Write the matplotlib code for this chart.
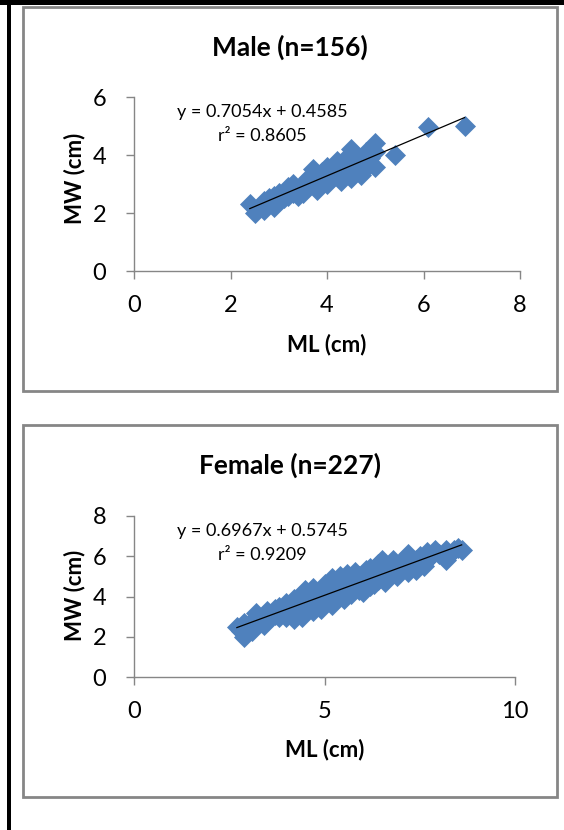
import numpy as np
import matplotlib.pyplot as plt
from matplotlib.patches import Rectangle

plt.rcParams['font.family'] = ['Lato', 'DejaVu Sans']

# Male (n=156): mantle length vs mantle width, cm
male_ml = [2.4, 2.5, 2.6, 2.7, 2.7, 2.8, 2.9, 2.9, 3.0, 3.0, 3.1, 3.2, 3.2, 3.3, 3.3,
           3.4, 3.4, 3.5, 3.5, 3.6, 3.6, 3.7, 3.7, 3.8, 3.8, 3.9, 3.9, 4.0, 4.0, 4.0,
           4.1, 4.1, 4.2, 4.2, 4.3, 4.3, 4.4, 4.4, 4.5, 4.5, 4.5, 4.6, 4.6, 4.7, 4.7,
           4.8, 4.8, 4.9, 4.9, 5.0, 5.0, 5.0, 5.4, 6.1, 6.85]
male_mw = [2.3, 2.0, 2.2, 2.1, 2.4, 2.5, 2.2, 2.6, 2.4, 2.7, 2.5, 2.6, 2.9, 2.7, 3.0,
           2.6, 2.8, 3.0, 2.7, 3.2, 2.9, 3.3, 3.5, 3.0, 2.8, 3.2, 3.4, 3.0, 3.6, 3.3,
           3.2, 3.5, 3.4, 3.8, 3.1, 3.6, 3.9, 3.4, 3.7, 4.2, 3.2, 3.5, 4.0, 3.8, 3.3,
           4.1, 3.6, 3.9, 3.7, 4.4, 4.1, 3.6, 4.0, 4.95, 5.0]
male_fit = (0.7054, 0.4585, 0.8605)

# Female (n=227)
female_ml = [2.7, 2.8, 2.9, 2.9, 3.0, 3.1, 3.1, 3.2, 3.2, 3.3, 3.4, 3.4, 3.5, 3.5, 3.6,
             3.7, 3.7, 3.8, 3.8, 3.9, 4.0, 4.0, 4.1, 4.2, 4.2, 4.3, 4.3, 4.4, 4.4, 4.5,
             4.5, 4.6, 4.6, 4.7, 4.7, 4.8, 4.8, 4.9, 4.9, 5.0, 5.0, 5.1, 5.1, 5.2, 5.2,
             5.3, 5.3, 5.4, 5.4, 5.5, 5.5, 5.6, 5.6, 5.7, 5.7, 5.8, 5.8, 5.9, 5.9, 6.0,
             6.0, 6.1, 6.1, 6.2, 6.2, 6.3, 6.3, 6.4, 6.4, 6.5, 6.5, 6.6, 6.6, 6.7, 6.8,
             6.8, 6.9, 7.0, 7.0, 7.1, 7.2, 7.2, 7.3, 7.4, 7.4, 7.5, 7.6, 7.7, 7.7, 7.8,
             7.9, 8.0, 8.1, 8.2, 8.2, 8.3, 8.4, 8.5, 8.6]
female_mw = [2.5, 2.3, 2.0, 2.7, 2.5, 2.8, 2.3, 3.2, 2.6, 2.9, 3.1, 2.6, 3.3, 2.8, 3.0,
             3.4, 3.1, 3.0, 3.5, 3.2, 3.7, 3.0, 3.4, 3.9, 2.9, 3.6, 3.2, 4.1, 3.0, 3.8,
             4.3, 3.5, 4.0, 3.3, 4.4, 3.9, 3.6, 4.2, 3.4, 4.6, 3.8, 4.3, 4.0, 4.9, 3.6,
             4.5, 4.1, 5.0, 4.2, 4.7, 3.9, 4.4, 5.1, 4.1, 4.8, 5.2, 4.5, 4.3, 5.0, 4.7,
             4.2, 5.3, 4.9, 4.5, 5.4, 5.0, 4.6, 5.6, 4.8, 5.2, 5.8, 4.7, 5.5, 5.1, 5.4,
             5.8, 5.0, 5.6, 5.3, 5.9, 5.2, 6.1, 5.5, 5.8, 5.3, 6.0, 5.5, 6.2, 5.8, 6.0,
             6.3, 6.1, 6.0, 5.8, 6.3, 6.1, 6.3, 6.4, 6.3]
female_fit = (0.6967, 0.5745, 0.9209)

W, H = 564, 830
BLUE = '#4F81BD'
GRAY = '#868686'


def fx(px):
    return px / W


def fy(py):
    return 1 - py / H


fig = plt.figure(figsize=(W / 100, H / 100), dpi=100)

# page borders
fig.add_artist(Rectangle((fx(7), 0), fx(4), 1, transform=fig.transFigure,
                         facecolor='black', edgecolor='none'))
fig.add_artist(Rectangle((0, fy(5)), 1, 5 / H, transform=fig.transFigure,
                         facecolor='black', edgecolor='none'))


def panel(box, ax_px, title, title_y, ml, mw, fit, xmax, xstep, ymax, ystep,
          eq_y, label_y, ylabel_y):
    x0, y0, x1, y1 = box
    fig.add_artist(Rectangle((fx(x0), fy(y1)), (x1 - x0) / W, (y1 - y0) / H,
                             transform=fig.transFigure, facecolor='none',
                             edgecolor=GRAY, linewidth=2))
    l, t, r, b = ax_px
    ax = fig.add_axes([fx(l), fy(b), (r - l) / W, (b - t) / H])
    ax.scatter(ml, mw, marker='D', s=115, color=BLUE, linewidths=0, zorder=2)
    slope, icpt, r2 = fit
    xs = np.array([min(ml), max(ml)])
    ax.plot(xs, slope * xs + icpt, color='black', lw=0.9, zorder=3)

    ax.set_xlim(0, xmax)
    ax.set_ylim(0, ymax)
    ax.set_xticks(np.arange(0, xmax + 0.1, xstep))
    ax.set_yticks(np.arange(0, ymax + 0.1, ystep))
    for s in ['top', 'right']:
        ax.spines[s].set_visible(False)
    for s in ['left', 'bottom']:
        ax.spines[s].set_color(GRAY)
        ax.spines[s].set_linewidth(1)
    ax.tick_params(direction='out', length=6, width=1, color=GRAY,
                   labelsize=17)
    ax.tick_params(axis='x', pad=11)
    ax.tick_params(axis='y', pad=14)

    fig.text(fx((x0 + x1) / 2), fy(title_y), title, ha='center', va='center',
             fontsize=19, fontweight='bold')
    fig.text(fx((l + r) / 2), fy(label_y), 'ML (cm)', ha='center', va='center',
             fontsize=16, fontweight='bold')
    fig.text(fx(75), fy(ylabel_y), 'MW (cm)', ha='center', va='center',
             rotation=90, fontsize=16, fontweight='bold')
    fig.text(fx(262), fy(eq_y), f'y = {slope:.4f}x + {icpt:.4f}', ha='center',
             va='center', fontsize=13)
    fig.text(fx(262), fy(eq_y + 24), f'r² = {r2:.4f}', ha='center',
             va='center', fontsize=13)
    return ax


panel((23, 7, 557, 391), (134, 97, 520, 271), 'Male (n=156)', 47,
      male_ml, male_mw, male_fit, 8, 2, 6, 2, 112, 345, 178)
panel((23, 425, 557, 797), (134, 516, 515, 677), 'Female (n=227)', 465,
      female_ml, female_mw, female_fit, 10, 5, 8, 2, 531, 750, 595)

fig.savefig('out.png', dpi=100)
